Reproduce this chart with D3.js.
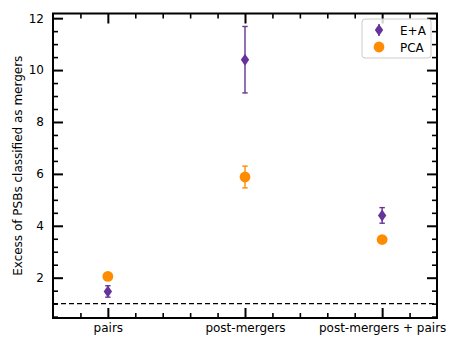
<!DOCTYPE html>
<html>
<head>
<meta charset="utf-8">
<script src="https://cdn.jsdelivr.net/npm/d3@7"></script>
<style>
	body { margin: 0; background: #fff; }
	text { font-family: 'DejaVu Sans', sans-serif; fill: #000; }
</style>
</head>
<body>
<script>
// categories on the x axis
const categories = [`pairs`, `post-mergers`, `post-mergers + pairs`];

// E+A selected PSBs: excess and symmetric error
const eaValues = [1.47, 10.4, 4.4];
const eaErrors = [0.22, 1.28, 0.3];

// PCA selected PSBs
const pcaValues = [2.05, 5.88, 3.47];
const pcaErrors = [0.1, 0.42, 0.08];

const yTicks = [2, 4, 6, 8, 10, 12];
const baseline = 1;

const width = 463, height = 347;
const margin = { left: 53, right: 26, top: 13.5, bottom: 29 };
const purple = `#663399`, orange = `#ff8c00`;

const svg = d3
	.select(`body`)
	.append(`svg`)
	.attr(`width`, width)
	.attr(`height`, height);

const x = d3.scaleLinear().domain([-0.4, 2.4]).range([margin.left, width - margin.right]);
const y = d3.scaleLinear().domain([0.447, 12.18]).range([height - margin.bottom, margin.top]);

const xMinor = d3.range(-0.4, 2.41, 0.2).map(d => +d.toFixed(1)).filter(d => d > -0.4 && d < 2.4 && !Number.isInteger(d));
const yMinor = d3.range(0.5, 12.1, 0.5).filter(d => d % 2 !== 0);

// axes with inward ticks on all four sides
const addAxis = (axis, tr, major, minor, labels) => {
	const g = svg.append(`g`).attr(`transform`, tr);
	g.call(axis.tickValues(minor).tickSize(-5).tickFormat(``))
		.selectAll(`.tick line`).attr(`stroke-width`, 1.6);
	g.select(`.domain`).remove();
	const gm = svg.append(`g`).attr(`transform`, tr);
	gm.call(axis.tickValues(major).tickSize(-10).tickFormat(labels ? labels : ``));
	gm.selectAll(`.tick line`).attr(`stroke-width`, 2);
	gm.selectAll(`.tick text`).style(`font-size`, `12px`);
	gm.select(`.domain`).remove();
	return gm;
};

addAxis(d3.axisBottom(x), `translate(0,${y.range()[0]})`, [0, 1, 2], xMinor, (d, i) => categories[i])
	.selectAll(`.tick text`).attr(`y`, 5);
addAxis(d3.axisTop(x), `translate(0,${y.range()[1]})`, [0, 1, 2], xMinor, null);
addAxis(d3.axisLeft(y), `translate(${x.range()[0]},0)`, yTicks, yMinor, d3.format(`d`))
	.selectAll(`.tick text`).attr(`x`, -9);
addAxis(d3.axisRight(y), `translate(${x.range()[1]},0)`, yTicks, yMinor, null);

// frame
svg
	.append(`rect`)
	.attr(`x`, x.range()[0])
	.attr(`y`, y.range()[1])
	.attr(`width`, x.range()[1] - x.range()[0])
	.attr(`height`, y.range()[0] - y.range()[1])
	.attr(`fill`, `none`)
	.attr(`stroke`, `#000`)
	.attr(`stroke-width`, 2);

// dashed line at an excess of one
svg
	.append(`line`)
	.attr(`x1`, x.range()[0])
	.attr(`x2`, x.range()[1])
	.attr(`y1`, y(baseline))
	.attr(`y2`, y(baseline))
	.attr(`stroke`, `#000`)
	.attr(`stroke-width`, 1.3)
	.attr(`stroke-dasharray`, `5,3`);

svg
	.append(`text`)
	.attr(`transform`, `translate(22,${(y.range()[0] + y.range()[1]) / 2}) rotate(-90)`)
	.attr(`text-anchor`, `middle`)
	.style(`font-size`, `12px`)
	.text(`Excess of PSBs classified as mergers`);

const diamond = `M0,-6L4.2,0L0,6L-4.2,0Z`;

const drawSeries = (values, errors, color, shape) => {
	const data = values.map((v, i) => ({ i: i, v: v, e: errors[i] }));
	const g = svg.append(`g`);
	const bars = g.selectAll(`g.err`).data(data).enter().append(`g`).attr(`class`, `err`);
	bars.append(`line`)
		.attr(`x1`, d => x(d.i)).attr(`x2`, d => x(d.i))
		.attr(`y1`, d => y(d.v - d.e)).attr(`y2`, d => y(d.v + d.e))
		.attr(`stroke`, color).attr(`stroke-width`, 1.4);
	[-1, 1].forEach(s => {
		bars.append(`line`)
			.attr(`x1`, d => x(d.i) - 2.7).attr(`x2`, d => x(d.i) + 2.7)
			.attr(`y1`, d => y(d.v + s * d.e)).attr(`y2`, d => y(d.v + s * d.e))
			.attr(`stroke`, color).attr(`stroke-width`, 1.4);
	});
	if (shape === `circle`) {
		g.selectAll(`circle`).data(data).enter().append(`circle`)
			.attr(`cx`, d => x(d.i)).attr(`cy`, d => y(d.v)).attr(`r`, 5.4).attr(`fill`, color);
	} else {
		g.selectAll(`path`).data(data).enter().append(`path`)
			.attr(`d`, diamond)
			.attr(`transform`, d => `translate(${x(d.i)},${y(d.v)})`)
			.attr(`fill`, color);
	}
};

drawSeries(eaValues, eaErrors, purple, `diamond`);
drawSeries(pcaValues, pcaErrors, orange, `circle`);

// legend
const legend = svg.append(`g`).attr(`transform`, `translate(362,19)`);
legend
	.append(`rect`)
	.attr(`width`, 69)
	.attr(`height`, 39)
	.attr(`rx`, 3)
	.attr(`fill`, `#fff`)
	.attr(`fill-opacity`, 0.8)
	.attr(`stroke`, `#ccc`);
legend.append(`line`).attr(`x1`, 17).attr(`x2`, 17).attr(`y1`, 5).attr(`y2`, 17)
	.attr(`stroke`, purple).attr(`stroke-width`, 1.4);
legend.append(`path`).attr(`d`, diamond).attr(`transform`, `translate(17,11)`).attr(`fill`, purple);
legend.append(`circle`).attr(`cx`, 17).attr(`cy`, 28).attr(`r`, 5.4).attr(`fill`, orange);
legend.append(`text`).attr(`x`, 38).attr(`y`, 15.5).style(`font-size`, `12px`).text(`E+A`);
legend.append(`text`).attr(`x`, 38).attr(`y`, 32.5).style(`font-size`, `12px`).text(`PCA`);
</script>
</body>
</html>
